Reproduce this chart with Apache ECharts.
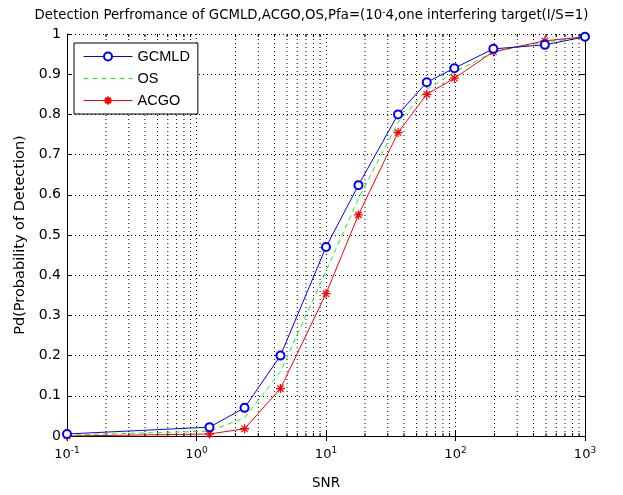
<!DOCTYPE html>
<html><head><meta charset="utf-8">
<script src="https://cdn.jsdelivr.net/npm/echarts@6/dist/echarts.min.js"></script>
<style>html,body{margin:0;padding:0;background:#fff}#c{width:623px;height:495px}</style>
</head><body><div id="c"></div>
<script>
var snr = [0.1, 1.26, 2.35, 4.45, 10, 17.8, 36, 60, 98, 196, 490, 1000];
var gcmld = [0.005, 0.022, 0.07, 0.20, 0.47, 0.624, 0.80, 0.88, 0.915, 0.963, 0.973, 0.993];
var os = [0.002, 0.012, 0.045, 0.16, 0.41, 0.59, 0.78, 0.862, 0.905, 0.955, 0.98, 0.992];
var acgo = [0.0, 0.005, 0.018, 0.118, 0.354, 0.55, 0.755, 0.85, 0.89, 0.956, 0.983, 0.993];
var minorTicks = [0.2,0.3,0.4,0.5,0.6,0.7,0.8,0.9,2,3,4,5,6,7,8,9,20,30,40,50,60,70,80,90,200,300,400,500,600,700,800,900];

function pairs(xs, ys){ return xs.map(function(x,i){return [x, ys[i]];}); }
var FONT = 'DejaVu Sans, sans-serif';
var AFONT = 'Liberation Sans, Arial, sans-serif';
var chart = echarts.init(document.getElementById('c'));
var dot = {type:[1,3], color:'#000', width:1};
chart.setOption({
  backgroundColor:'#fff',
  animation:false,
  title:{
    text:'Detection Perfromance of GCMLD,ACGO,OS,Pfa=(10{s|-}4,one interfering target(I/S=1)',
    left:'center', top:3,
    textStyle:{fontFamily:FONT, fontSize:13.3, fontWeight:'normal', color:'#000',
      rich:{s:{fontFamily:FONT, fontSize:9, color:'#000', padding:[0,0,7,0]}}}
  },
  legend:{
    orient:'vertical', left:74, top:43,
    padding:[6,8,6,9], itemGap:7, itemWidth:49, itemHeight:10,
    backgroundColor:'#fff', borderColor:'#000', borderWidth:1, borderRadius:0,
    lineStyle:{width:1},
    textStyle:{fontFamily:AFONT, fontSize:14.5, color:'#000'},
    data:['GCMLD','OS','ACGO']
  },
  grid:{left:67, right:38, top:34, bottom:49, containLabel:false},
  xAxis:[{
    type:'log', logBase:10, min:0.1, max:1000,
    name:'SNR', nameLocation:'middle', nameGap:40,
    nameTextStyle:{fontFamily:FONT, fontSize:13.5, color:'#000'},
    axisLine:{lineStyle:{color:'#000', width:1}},
    axisTick:{inside:true, length:5, lineStyle:{color:'#000'}},
    axisLabel:{margin:10, color:'#000',
      formatter:function(v){ var e = Math.round(Math.log10(v)); return '{b|10}{s|'+e+'}'; },
      rich:{b:{fontFamily:FONT, fontSize:13, color:'#000'}, s:{fontFamily:FONT, fontSize:9, color:'#000', padding:[0,0,8,0]}}},
    splitLine:{show:true, lineStyle:dot}
  },{
    type:'log', logBase:10, min:0.1, max:1000, position:'top',
    axisLine:{lineStyle:{color:'#000', width:1}},
    axisTick:{inside:true, length:5, lineStyle:{color:'#000'}},
    axisLabel:{show:false}, splitLine:{show:false}
  }],
  yAxis:[{
    type:'value', min:0, max:1, interval:0.1,
    name:'Pd(Probability of Detection)', nameLocation:'middle', nameGap:39,
    nameTextStyle:{fontFamily:FONT, fontSize:14.5, color:'#000'},
    axisLine:{show:true, lineStyle:{color:'#000', width:1}},
    axisTick:{show:true, inside:true, length:5, lineStyle:{color:'#000'}},
    axisLabel:{margin:6, color:'#000', fontFamily:FONT, fontSize:14},
    splitLine:{show:true, lineStyle:dot}
  },{
    type:'value', min:0, max:1, interval:0.1, position:'right',
    axisLine:{show:true, lineStyle:{color:'#000', width:1}},
    axisTick:{show:true, inside:true, length:5, lineStyle:{color:'#000'}},
    axisLabel:{show:false}, splitLine:{show:false}
  }],
  series:[{
    type:'custom', name:'minor', silent:true, z:1,
    xAxisIndex:0, yAxisIndex:0,
    data: minorTicks.map(function(v){return [v];}),
    encode:{x:0},
    renderItem:function(params, api){
      var v = api.value(0);
      var b = api.coord([v, 0]), t = api.coord([v, 1]);
      return {type:'group', children:[
        {type:'line', shape:{x1:b[0], y1:b[1], x2:t[0], y2:t[1]}, style:{stroke:'#000', lineWidth:1, lineDash:[1,3]}},
        {type:'line', shape:{x1:b[0], y1:b[1], x2:b[0], y2:b[1]-3}, style:{stroke:'#000', lineWidth:1}},
        {type:'line', shape:{x1:t[0], y1:t[1], x2:t[0], y2:t[1]+3}, style:{stroke:'#000', lineWidth:1}}
      ]};
    }
  },{
    name:'GCMLD', type:'line', data:pairs(snr, gcmld), z:4,
    symbol:'emptyCircle', symbolSize:8, showAllSymbol:true,
    lineStyle:{color:'#0000ff', width:1}, itemStyle:{color:'#0000ff', borderWidth:1}
  },{
    name:'OS', type:'line', data:pairs(snr, os), z:3,
    symbol:'circle', symbolSize:1, showSymbol:false,
    lineStyle:{color:'#00ff00', width:1, type:[5,4]}, itemStyle:{color:'#00ff00', opacity:0}
  },{
    name:'ACGO', type:'line', data:pairs(snr, acgo), z:3,
    symbol:'path://M0,-10L0,10M-10,0L10,0M-7,-7L7,7M-7,7L7,-7', symbolSize:9, showAllSymbol:true,
    lineStyle:{color:'#ff0000', width:1}, itemStyle:{color:'none', borderColor:'#ff0000', borderWidth:1.3}
  }]
});
</script></body></html>
